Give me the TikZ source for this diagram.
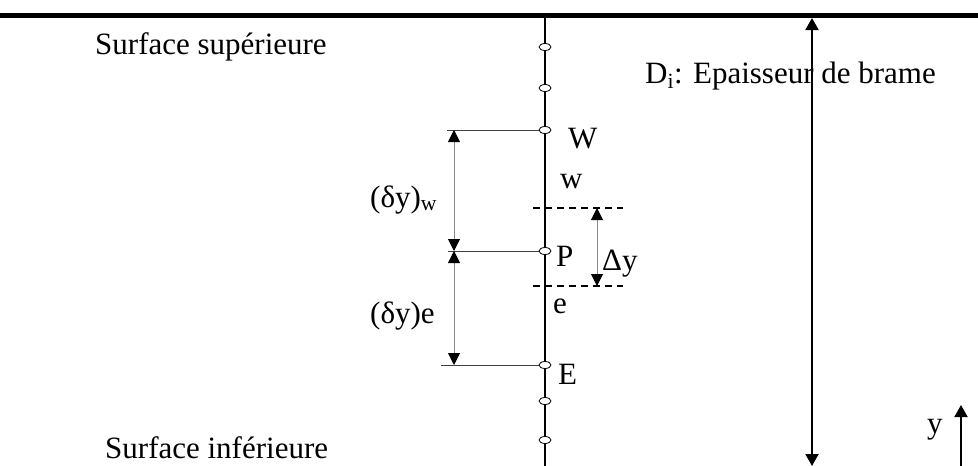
\documentclass[tikz,border=0pt]{standalone}
\usepackage{fontspec}
\setmainfont{Liberation Serif}
\usepackage{tikz}
\usetikzlibrary{arrows.meta,shapes.geometric}
\definecolor{DimGray}{HTML}{8A8A8A}
\definecolor{LeadGray}{HTML}{404040}
\tikzset{
  >={Triangle[width=12pt,length=12pt]},
  wall/.style={line width=5pt,draw=black},
  meshline/.style={line width=2pt,draw=black},
  gridpt/.style={ellipse,draw=black,fill=white,line width=0.8pt,
    minimum width=12pt,minimum height=7pt,inner sep=0pt},
  leader/.style={line width=1pt,draw=LeadGray},
  dimline/.style={line width=1pt,draw=DimGray,
    {Triangle[width=12pt,length=12pt,color=black]}-{Triangle[width=12pt,length=12pt,color=black]}},
  thickarrow/.style={line width=2pt,draw=black,
    {Triangle[width=13pt,length=12pt]}-{Triangle[width=13pt,length=12pt]}},
  axisarrow/.style={line width=2pt,draw=black,-{Triangle[width=13pt,length=12pt]}},
  facebound/.style={line width=1.5pt,draw=black,dash pattern=on 7pt off 5pt},
  txt/.style={font=\fontsize{31}{36}\selectfont,inner sep=0pt,anchor=base west}
}

\begin{document}
\begin{tikzpicture}[x=1pt,y=-1pt]
  \useasboundingbox (0,0) rectangle (978,466);

  % slab and mesh line
  \coordinate (topL) at (0,15.5);
  \coordinate (topR) at (978,15.5);
  \coordinate (meshTop) at (545,15.5);
  \coordinate (meshBot) at (545,466);
  \draw[wall] (topL) -- (topR);
  \draw[meshline] (meshTop) -- (meshBot);

  \node[txt] (supface) at (95,54) {Surface supérieure};
  \node[txt] (infface) at (105,458) {Surface inférieure};
  \node[txt] (thklabel) at (645,83) {D\textsubscript{i}: Epaisseur de brame};

  % grid points
  \foreach \yy/\nm in {47/n1,88/n2,401/n6,440/n7}
    \node[gridpt] (\nm) at (545,\yy) {};
  \node[gridpt] (W) at (545,130) {};
  \node[gridpt] (P) at (545,251) {};
  \node[gridpt] (E) at (545,365) {};

  \node[txt] (Wlab) at (568,148) {W};
  \node[txt] (wlab) at (560,188) {w};
  \node[txt] (Plab) at (556,266) {P};
  \node[txt] (elab) at (553,313) {e};
  \node[txt] (Elab) at (558,384) {E};

  % leaders and distances between nodes
  \coordinate (Wl) at (447,130);
  \coordinate (Pl) at (448,251);
  \coordinate (El) at (441,365);
  \draw[leader] (Wl) -- (W.west);
  \draw[leader] (Pl) -- (P.west);
  \draw[leader] (El) -- (E.west);

  \coordinate (dW) at (454,130);
  \coordinate (dP) at (454,251);
  \coordinate (dE) at (454,365);
  \draw[dimline] (dW) -- (dP);
  \draw[dimline] (dP) -- (dE);
  \node[txt] (dyw) at (370,207) {(δy)\textsubscript{w}};
  \node[txt] (dye) at (370,323) {(δy)e};

  % control volume faces
  \coordinate (fwL) at (533,208);
  \coordinate (fwR) at (623,208);
  \coordinate (feL) at (533,286);
  \coordinate (feR) at (623,286);
  \draw[facebound] (fwL) -- (fwR);
  \draw[facebound] (feL) -- (feR);
  \coordinate (cvT) at (597,208);
  \coordinate (cvB) at (597,286);
  \draw[dimline] (cvT) -- (cvB);
  \node[txt] (Dylab) at (602,270) {Δy};

  % thickness and axis
  \coordinate (thkT) at (812,18);
  \coordinate (thkB) at (812,466);
  \draw[thickarrow] (thkT) -- (thkB);
  \coordinate (yB) at (961,466);
  \coordinate (yT) at (961,405);
  \draw[axisarrow] (yB) -- (yT);
  \node[txt] (ylab) at (927,433) {y};

\end{tikzpicture}
\end{document}
